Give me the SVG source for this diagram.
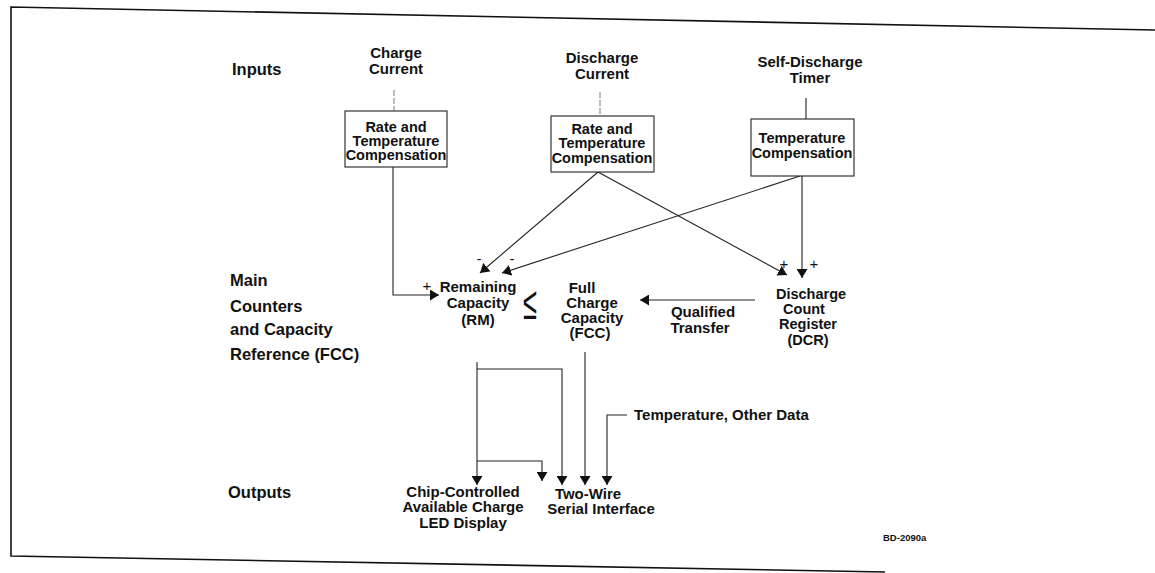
<svg xmlns="http://www.w3.org/2000/svg" width="1155" height="573" viewBox="0 0 1155 573">
<style>
text{font-family:"Liberation Sans",Arial,sans-serif;font-weight:bold;font-size:15px;fill:#111}
.c{text-anchor:middle}
.rl{font-size:16.5px}
.box{fill:#fff;stroke:#222;stroke-width:1.1}
.ln{fill:none;stroke:#222;stroke-width:1.1}
.thin{fill:none;stroke:#555;stroke-width:0.8;stroke-dasharray:6 2}
.frame{fill:none;stroke:#111;stroke-width:1.6}
.sg{font-size:15px;font-weight:normal}
.bx{font-size:14.5px}
</style>
<defs>
<marker id="ah" markerUnits="userSpaceOnUse" markerWidth="9" markerHeight="11" refX="9" refY="5.5" orient="auto">
<path d="M0,0 L9,5.5 L0,11 z" fill="#111"/>
</marker>
</defs>
<rect width="1155" height="573" fill="#fff"/>
<g id="frame">
<path class="frame" d="M1155,30 L11,7 L11,556 L885,572"/>
</g>
<g id="row-labels">
<text class="rl" x="232" y="75">Inputs</text>
<text class="rl" x="230" y="286">Main</text>
<text class="rl" x="230" y="312">Counters</text>
<text class="rl" x="230" y="335">and Capacity</text>
<text class="rl" x="230" y="360">Reference (FCC)</text>
<text class="rl" x="228" y="498">Outputs</text>
</g>
<g id="connectors">
<path class="thin" d="M394,90 L394,111"/>
<path class="thin" d="M600,92 L600,116"/>
<path class="ln" d="M806,98 L806,119"/>
<path class="ln" d="M393,167 L393,295 L439,295" marker-end="url(#ah)"/>
<path class="ln" d="M598,172 L480,273" marker-end="url(#ah)"/>
<path class="ln" d="M598,172 L787,275" marker-end="url(#ah)"/>
<path class="ln" d="M800,176 L502,273" marker-end="url(#ah)"/>
<path class="ln" d="M802,176 L802,278" marker-end="url(#ah)"/>
<path class="ln" d="M755,300 L640,300" marker-end="url(#ah)"/>
<path class="ln" d="M477,362 L477,485" marker-end="url(#ah)"/>
<path class="ln" d="M477,369 L562,369 L562,485" marker-end="url(#ah)"/>
<path class="ln" d="M477,461 L542,461 L542,481" marker-end="url(#ah)"/>
<path class="ln" d="M585,352 L585,485" marker-end="url(#ah)"/>
<path class="ln" d="M627,415 L607,415 L607,485" marker-end="url(#ah)"/>
<text class="sg c" x="427" y="291">+</text>
<text class="sg c" x="479" y="264">-</text>
<text class="sg c" x="512" y="264">-</text>
<text class="sg c" x="784" y="269">+</text>
<text class="sg c" x="814" y="269">+</text>
</g>
<g id="charge-current">
<text class="c" x="396" y="58">Charge</text>
<text class="c" x="396" y="74">Current</text>
</g>
<g id="charge-comp">
<rect class="box" x="345" y="111" width="102" height="56"/>
<text class="c bx" x="396" y="132">Rate and</text>
<text class="c bx" x="396" y="146">Temperature</text>
<text class="c bx" x="396" y="160">Compensation</text>
</g>
<g id="discharge-current">
<text class="c" x="602" y="63">Discharge</text>
<text class="c" x="602" y="79">Current</text>
</g>
<g id="discharge-comp">
<rect class="box" x="551" y="116" width="103" height="56"/>
<text class="c bx" x="602" y="134">Rate and</text>
<text class="c bx" x="602" y="148">Temperature</text>
<text class="c bx" x="602" y="163">Compensation</text>
</g>
<g id="self-discharge-timer">
<text class="c" x="810" y="67">Self-Discharge</text>
<text class="c" x="810" y="83">Timer</text>
</g>
<g id="temp-comp">
<rect class="box" x="751" y="119" width="103" height="57"/>
<text class="c bx" x="802" y="143">Temperature</text>
<text class="c bx" x="802" y="158">Compensation</text>
</g>
<g id="remaining-capacity">
<text class="c" x="478" y="292">Remaining</text>
<text class="c" x="478" y="308">Capacity</text>
<text class="c" x="478" y="325">(RM)</text>
</g>
<g id="compare">
<text x="530" y="319" class="c" style="font-weight:normal;font-size:46px" transform="translate(530 0) scale(0.55 1) translate(-530 0)">≤</text>
</g>
<g id="full-charge-capacity">
<text class="c" x="582" y="293">Full</text>
<text class="c" x="592" y="308">Charge</text>
<text class="c" x="592" y="323">Capacity</text>
<text class="c" x="590" y="338">(FCC)</text>
</g>
<g id="qualified-transfer">
<text class="c" x="703" y="317">Qualified</text>
<text class="c" x="700" y="333">Transfer</text>
</g>
<g id="dcr">
<text class="c bx" x="811" y="299">Discharge</text>
<text class="c bx" x="804" y="314">Count</text>
<text class="c bx" x="808" y="329">Register</text>
<text class="c bx" x="808" y="345">(DCR)</text>
</g>
<g id="temp-data">
<text x="634" y="420">Temperature, Other Data</text>
</g>
<g id="led-display">
<text class="c" x="463" y="497">Chip-Controlled</text>
<text class="c" x="463" y="512">Available Charge</text>
<text class="c" x="463" y="528">LED Display</text>
</g>
<g id="serial-interface">
<text class="c" x="588" y="499">Two-Wire</text>
<text class="c" x="601" y="514">Serial Interface</text>
</g>
<g id="figure-id">
<text x="883" y="541" style="font-size:9.5px">BD-2090a</text>
</g>
</svg>
